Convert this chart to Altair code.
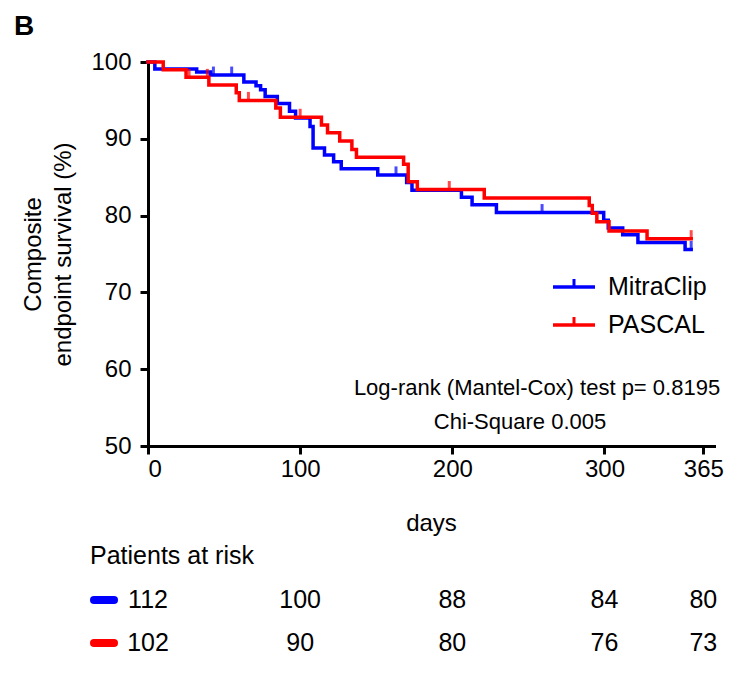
import altair as alt
import numpy as np
import pandas as pd

FONT = "Liberation Sans, Arial, Helvetica, sans-serif"
BLUE = "#0000ff"
RED = "#ff0000"

# Kaplan-Meier step data (day, survival %)
mitra_days = [0, 4.5, 32, 41, 63, 71, 74, 77, 85, 93, 97, 106.5, 108.5, 116, 122, 127,
              151, 170, 173.5, 206, 213, 229, 299.5, 302.5, 312, 322, 353, 357]
mitra_surv = [100, 99.1, 98.7, 98.3, 97.4, 96.9, 96.4, 95.5, 94.6, 93.6, 92.7, 91.6, 88.8,
              87.9, 87.0, 86.1, 85.3, 84.3, 83.3, 82.4, 81.4, 80.4, 79.4, 78.4, 77.5, 76.5,
              75.6, 75.6]
mitra_censor = [43, 55, 163, 259, 357]

pascal_days = [0, 10, 25, 40, 58, 60, 84, 87, 114, 118, 126, 134, 137, 168, 171, 177,
               221, 290, 292, 295, 303, 328, 357]
pascal_surv = [100, 99.0, 98.0, 97.0, 96.0, 95.0, 94.0, 92.8, 91.8, 90.8, 89.7, 88.6, 87.6,
               86.7, 84.4, 83.4, 82.3, 81.3, 80.3, 79.2, 78.0, 77.0, 77.0]
pascal_censor = [27, 39, 66, 100, 198, 357]

x_ticks = [0, 100, 200, 300, 365]
y_ticks = [50, 60, 70, 80, 90, 100]

risk_days = [0, 100, 200, 300, 365]
risk_mitra = [112, 100, 88, 84, 80]
risk_pascal = [102, 90, 80, 76, 73]

groups = ["MitraClip", "PASCAL"]
annot_1 = "Log-rank (Mantel-Cox) test p= 0.8195"
annot_2 = "Chi-Square 0.005"


def step_value(days, surv, t):
    i = np.searchsorted(np.array(days), t, side="right") - 1
    return surv[i]


mitra_df = pd.DataFrame({"day": mitra_days, "surv": mitra_surv})
pascal_df = pd.DataFrame({"day": pascal_days, "surv": pascal_surv})
mitra_c = pd.DataFrame({"day": mitra_censor,
                        "surv": [step_value(mitra_days, mitra_surv, t) for t in mitra_censor]})
pascal_c = pd.DataFrame({"day": pascal_censor,
                         "surv": [step_value(pascal_days, pascal_surv, t) for t in pascal_censor]})
risk_m = pd.DataFrame({"day": risk_days, "n": risk_mitra})
risk_p = pd.DataFrame({"day": risk_days, "n": risk_pascal})

xscale = alt.Scale(domain=[0, 372], nice=False, zero=False)
yscale = alt.Scale(domain=[50, 100], nice=False, zero=False)
xaxis = alt.Axis(values=x_ticks, title="days", titlePadding=30, labelPadding=3)
yaxis = alt.Axis(values=y_ticks, title=["Composite", "endpoint survival (%)"],
                 titleLineHeight=30, titlePadding=15, labelPadding=9)


def X(field="day"):
    return alt.X(f"{field}:Q", scale=xscale, axis=xaxis)


def Y(field="surv"):
    return alt.Y(f"{field}:Q", scale=yscale, axis=yaxis)


def km(df, cdf, color):
    line = alt.Chart(df).mark_line(interpolate="step-after", color=color, strokeWidth=3.5,
                                   strokeCap="square").encode(x=X(), y=Y())
    ticks = alt.Chart(cdf).mark_tick(orient="vertical", color=color, size=9, thickness=3,
                                     yOffset=-4).encode(x=X(), y=Y())
    return line + ticks


base = alt.Chart(pd.DataFrame({"a": [0]}))

# panel letter
letter = base.mark_text(text="B", font=FONT, fontSize=28, fontWeight="bold", align="left",
                        baseline="alphabetic", color="black").encode(
    x=alt.value(-134), y=alt.value(-27))

# manual legend
leg = []
for i, (name, col) in enumerate(zip(groups, [BLUE, RED])):
    yy = 225 + i * 38
    leg.append(base.mark_rule(color=col, strokeWidth=3.5).encode(
        x=alt.value(405), x2=alt.value(447), y=alt.value(yy)))
    leg.append(base.mark_rule(color=col, strokeWidth=3).encode(
        x=alt.value(426), y=alt.value(yy - 8), y2=alt.value(yy)))
    leg.append(base.mark_text(text=name, font=FONT, fontSize=25, align="left",
                              baseline="middle", color="black").encode(
        x=alt.value(460), y=alt.value(yy)))

ann1 = base.mark_text(text=annot_1, font=FONT, fontSize=22, align="center",
                      baseline="middle", color="black").encode(x=alt.value(389), y=alt.value(326))
ann2 = base.mark_text(text=annot_2, font=FONT, fontSize=22, align="center",
                      baseline="middle", color="black").encode(x=alt.value(372), y=alt.value(360))

# risk table
risk_title = base.mark_text(text="Patients at risk", font=FONT, fontSize=25, align="left",
                            baseline="middle", color="black").encode(
    x=alt.value(-58), y=alt.value(494))
risk_layers = []
for i, (rdf, col) in enumerate(zip([risk_m, risk_p], [BLUE, RED])):
    yy = 538 + i * 43
    risk_layers.append(base.mark_rule(color=col, strokeWidth=8, strokeCap="round").encode(
        x=alt.value(-54), x2=alt.value(-34), y=alt.value(yy)))
    risk_layers.append(alt.Chart(rdf).mark_text(font=FONT, fontSize=25, align="center",
                                                baseline="middle", color="black").encode(
        x=X(), text="n:Q", y=alt.value(yy)))

chart = alt.layer(
    km(mitra_df, mitra_c, BLUE),
    km(pascal_df, pascal_c, RED),
    letter, *leg, ann1, ann2, risk_title, *risk_layers,
).properties(
    width=566, height=384,
    autosize=alt.AutoSizeParams(type="none"),
    padding={"left": 140, "top": 54, "right": 10, "bottom": 214},
).configure_view(stroke=None).configure_axis(
    grid=False, domainColor="black", domainWidth=3, tickColor="black", tickWidth=3,
    tickSize=8, labelFont=FONT, labelFontSize=24, labelColor="black", titleFont=FONT,
    titleFontSize=24, titleFontWeight="normal", titleColor="black", domainCap="square",
)

chart.save("out.html", embed_options={"renderer": "svg", "actions": False})
